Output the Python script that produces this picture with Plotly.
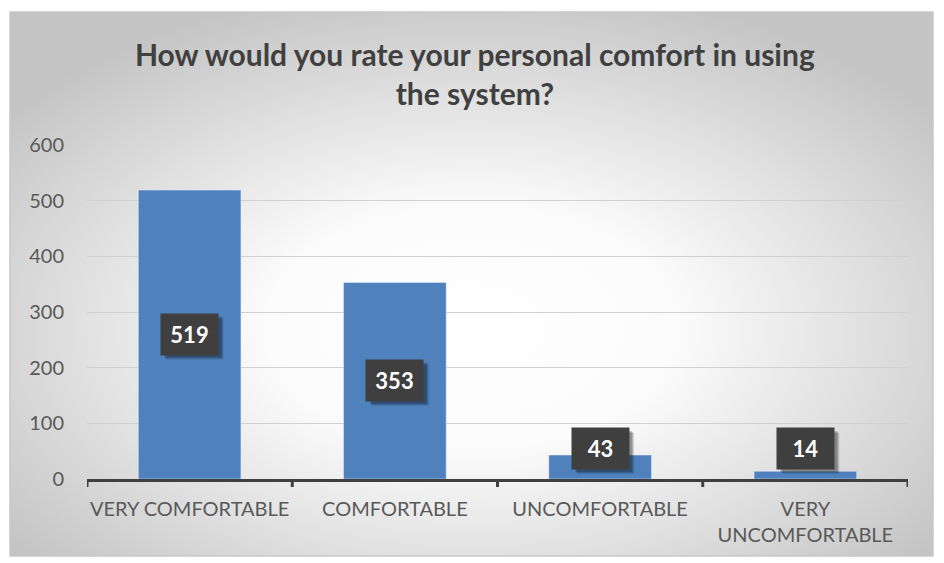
import plotly.graph_objects as go

categories = ["VERY COMFORTABLE", "COMFORTABLE", "UNCOMFORTABLE", "VERY<br>UNCOMFORTABLE"]
values = [519, 353, 43, 14]
title_text = "How would you rate your personal comfort in using<br>the system?"
y_ticks = [0, 100, 200, 300, 400, 500, 600]

BAR = "#4f81bd"
TXT = "#595959"

# plot area in pixels
W, H = 944, 563
L, R, T, B = 87, 36, 145, 84
pw, ph = W - L - R, H - T - B

def px2x(p):
    return (p - L) / pw

def py2y(p):
    return (H - B - p) / ph

fig = go.Figure()
fig.add_trace(go.Bar(x=list(range(len(categories))), y=values, marker_color=BAR,
                     width=0.5, hoverinfo="skip"))

svg = ("data:image/svg+xml;utf8,"
       "<svg xmlns='http://www.w3.org/2000/svg' width='923' height='544' viewBox='0 0 923 544' preserveAspectRatio='none'>"
       "<defs><radialGradient id='g' cx='50%' cy='58%' r='64%'>"
       "<stop offset='0' stop-color='%23ffffff'/><stop offset='0.35' stop-color='%23fbfbfb'/>"
       "<stop offset='1' stop-color='%23c4c4c4'/></radialGradient></defs>"
       "<rect width='923' height='544' fill='url(%23g)'/></svg>")

fx0, fx1, fy0, fy1 = px2x(10), px2x(933), py2y(556), py2y(12)
fig.add_layout_image(source=svg, xref="paper", yref="paper", x=fx0, y=fy1,
                     sizex=fx1 - fx0, sizey=fy1 - fy0, sizing="stretch",
                     xanchor="left", yanchor="top", layer="below")
fig.add_shape(type="rect", xref="paper", yref="paper", x0=fx0, x1=fx1, y0=fy0, y1=fy1,
              line=dict(color="#c8c8c8", width=1.5), fillcolor="rgba(0,0,0,0)", layer="below")

min_label = 54
for i, v in enumerate(values):
    ly = max(v / 2, min_label)
    for off, op in [(5, 0.12), (4, 0.15), (3, 0.2)]:
        fig.add_shape(type="rect", xref="x", yref="y", xsizemode="pixel", ysizemode="pixel",
                      xanchor=i, yanchor=ly, x0=-28 + off, x1=29 + off, y0=-20 - off, y1=21 - off,
                      fillcolor=f"rgba(0,0,0,{op})", line=dict(width=0), layer="above")
    fig.add_annotation(x=i, y=ly, xref="x", yref="y", text=f"<b>{v}</b>", showarrow=False,
                       font=dict(family="Lato", size=22, color="white"),
                       bgcolor="#3f3f3f", width=57, height=41, borderpad=0, yshift=0)

fig.update_layout(
    width=W, height=H,
    margin=dict(l=L, r=R, t=T, b=B),
    paper_bgcolor="white", plot_bgcolor="rgba(0,0,0,0)",
    showlegend=False,
    bargap=0.5,
    title=dict(text=f"<b>{title_text}</b>", x=0.503, xanchor="center", y=0.882, yanchor="middle",
               font=dict(family="Lato", size=30, color="#404040")),
    font=dict(family="Lato", color=TXT),
)
fig.update_xaxes(tickmode="array", tickvals=list(range(len(categories))), ticktext=categories,
                 range=[-0.5, 3.5], showgrid=False, zeroline=False,
                 showline=True, linecolor="#404040", linewidth=3, ticklabelstandoff=10,
                 tickfont=dict(family="Lato", size=20, color=TXT))
# boundary ticks
for b in [-0.5, 0.5, 1.5, 2.5, 3.5]:
    fig.add_shape(type="line", xref="x", yref="paper", ysizemode="pixel", yanchor=0,
                  x0=b, x1=b, y0=0, y1=-8, line=dict(color="#404040", width=3))
fig.update_yaxes(range=[0, 600], tickvals=y_ticks, showgrid=True, gridcolor="#d0d0d0", gridwidth=1,
                 zeroline=False, showline=False, ticks="", ticklabelstandoff=22,
                 tickfont=dict(family="Lato", size=20, color=TXT))

fig.write_html("out.html")
